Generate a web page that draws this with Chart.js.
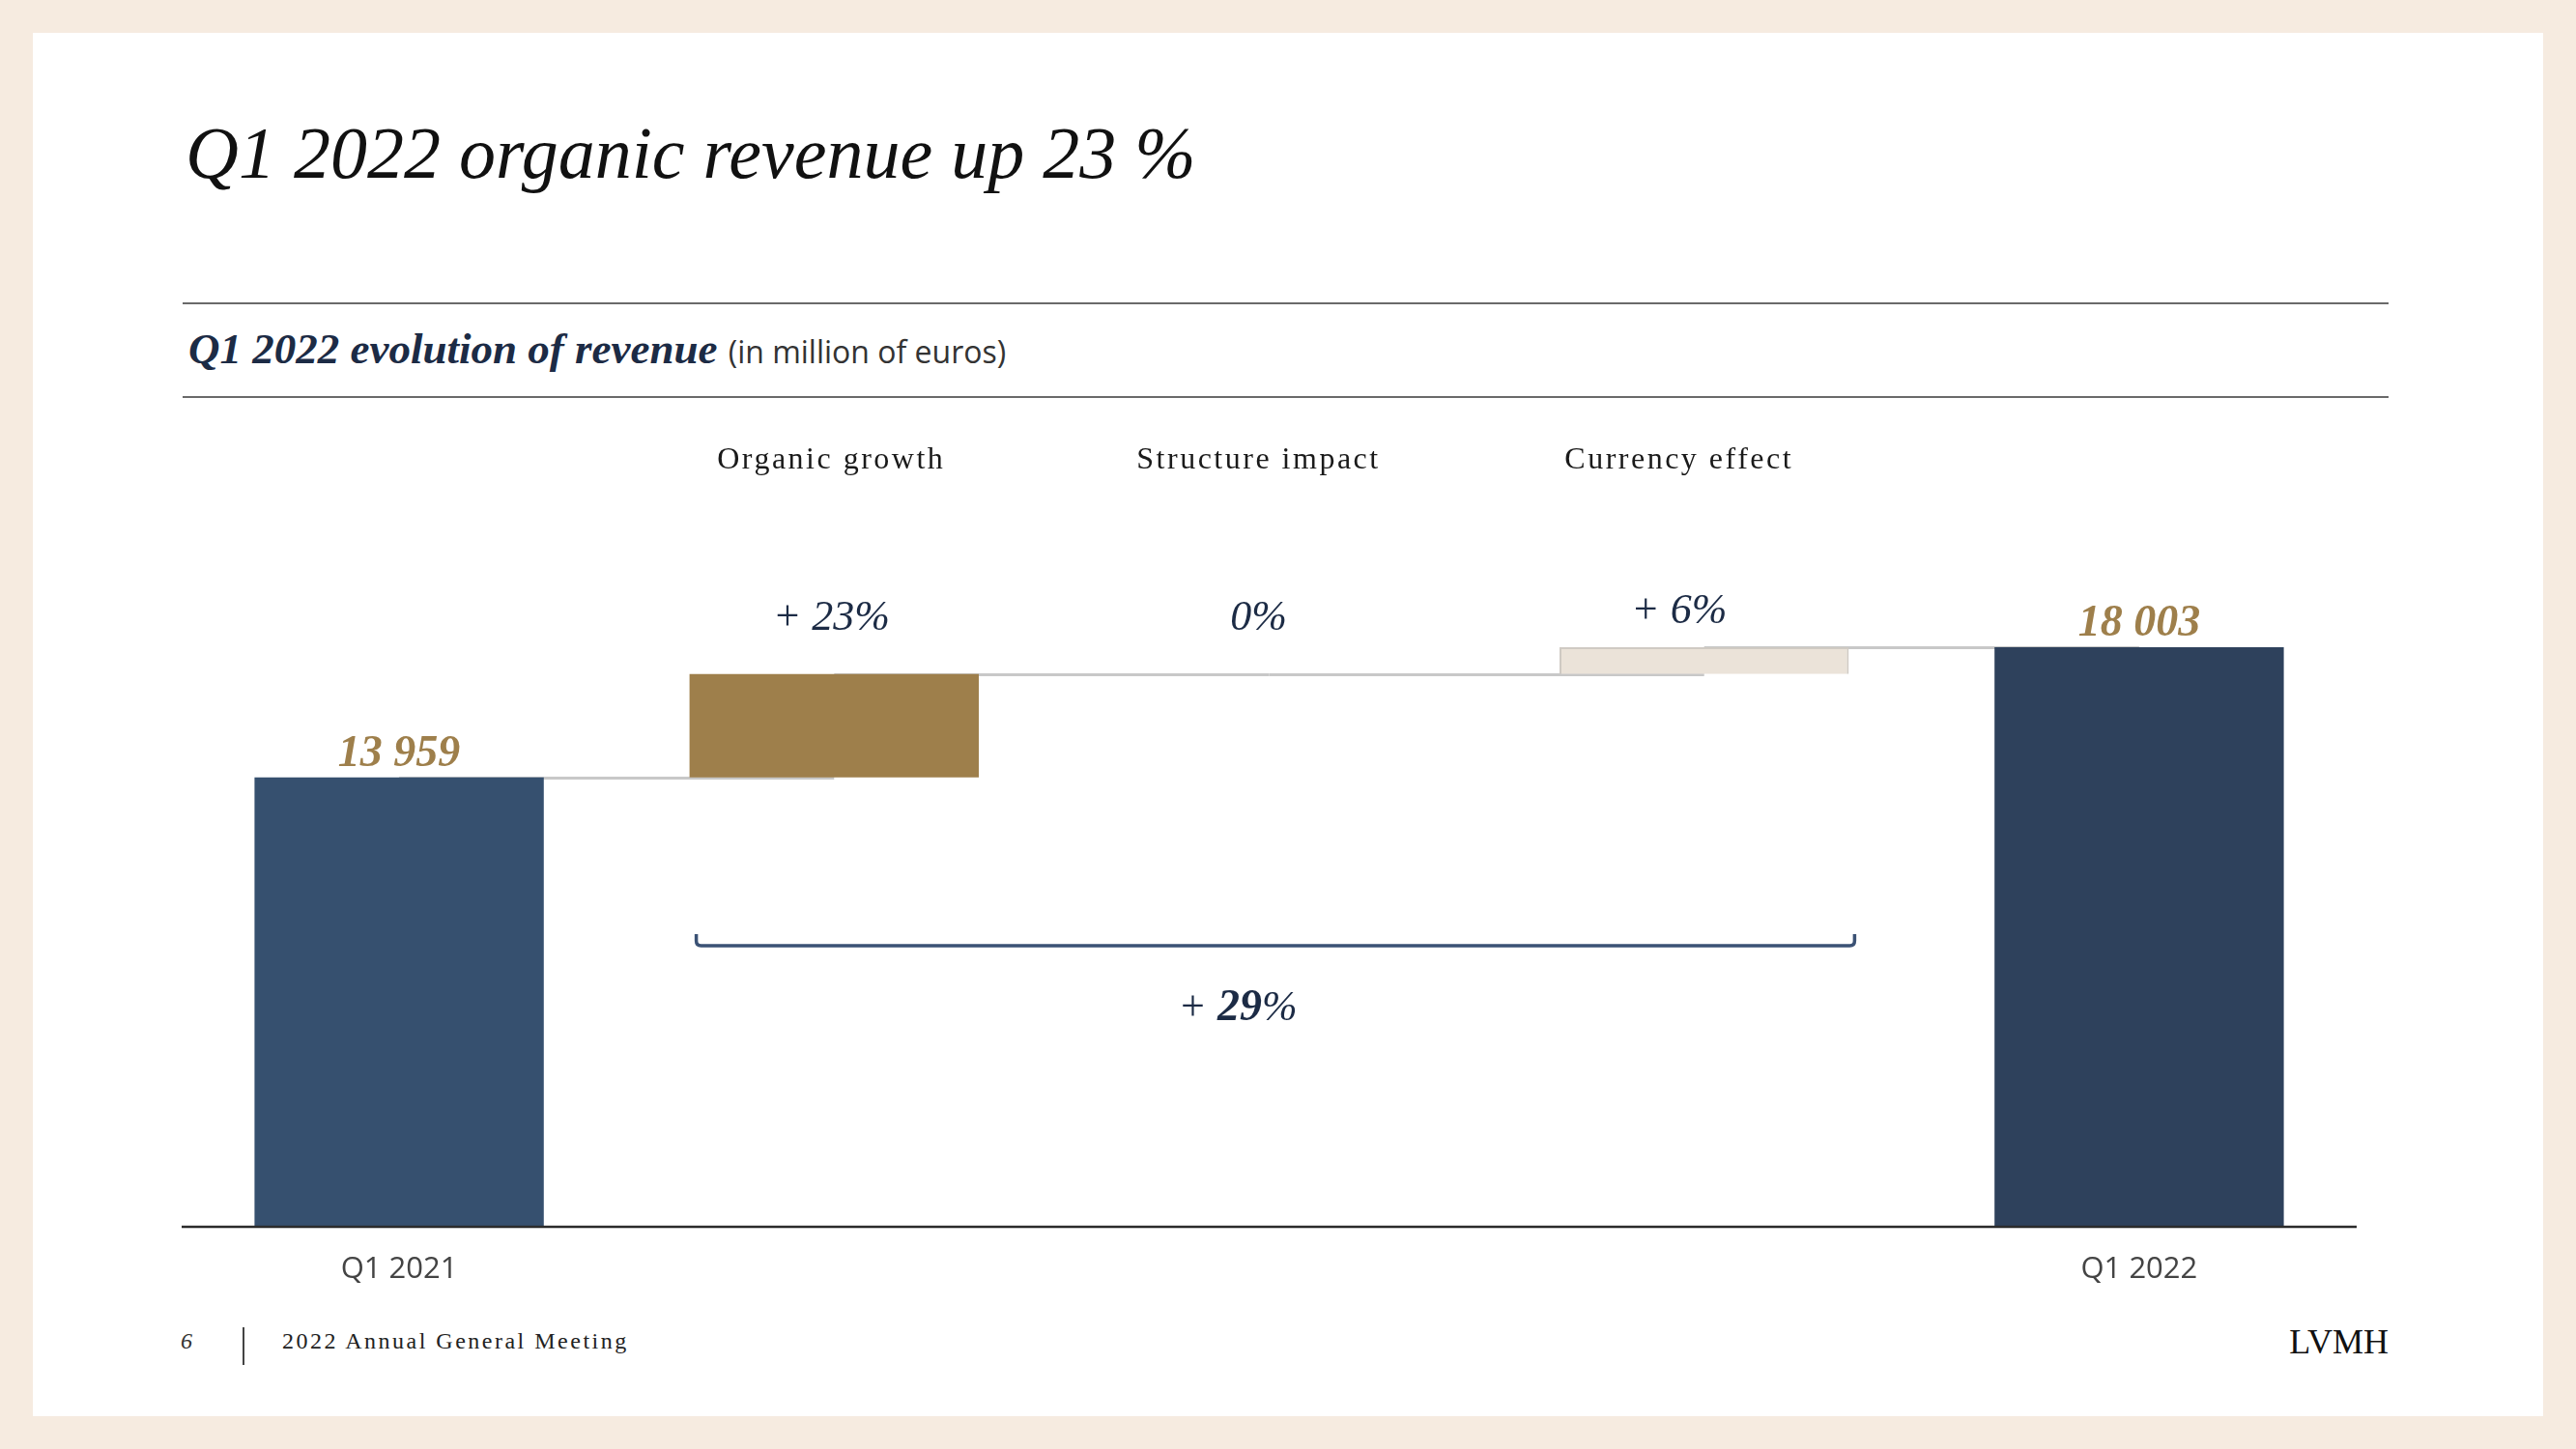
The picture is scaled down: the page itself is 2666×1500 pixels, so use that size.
<!DOCTYPE html>
<html>
<head>
<meta charset="utf-8">
<script src="https://cdn.jsdelivr.net/npm/chart.js@4/dist/chart.umd.min.js"></script>
<style>
  html, body { margin: 0; padding: 0; }
  body { width: 2666px; height: 1500px; background: #f6ebe0; position: relative; overflow: hidden; }
  .card { position: absolute; left: 34px; top: 34px; width: 2598px; height: 1432px; background: #fff; }
  .abs { position: absolute; white-space: nowrap; line-height: 1; }
  .serif { font-family: "Liberation Serif", "DejaVu Serif", serif; }
  .rule { position: absolute; left: 189px; width: 2283px; height: 2px; background: #6a6a6a; }
  #chart { position: absolute; left: 0; top: 0; }
</style>
</head>
<body>
<div class="card"></div>

<div class="abs serif" style="left:192px; top:120px; font-size:76px; font-style:italic; color:#111;">Q1 2022 organic revenue up 23 %</div>

<div class="rule" style="top:313px;"></div>
<div class="abs serif" style="left:195px; top:339px; font-size:45px; font-style:italic; font-weight:bold; color:#1c2b45;">Q1 2022 evolution of revenue <span style="font-family:'Open Sans', sans-serif; font-style:normal; font-weight:normal; font-size:32px; color:#333;">(in million of euros)</span></div>
<div class="rule" style="top:410px;"></div>

<div class="abs serif" style="left:187px; top:1376px; font-size:24px; font-style:italic; color:#333;">6</div>
<div style="position:absolute; left:251px; top:1374px; width:2px; height:39px; background:#444;"></div>
<div class="abs serif" style="left:292px; top:1376px; font-size:24px; letter-spacing:2.5px; color:#222;">2022 Annual General Meeting</div>
<div class="abs serif" style="right:194px; top:1371px; font-size:36px; color:#111;">LVMH</div>

<canvas id="chart" width="2666" height="1500"></canvas>

<script>
// Waterfall data (million euros)
const categories = ['Q1 2021', 'Organic growth', 'Structure impact', 'Currency effect', 'Q1 2022'];
const startRevenue = 13959;
const endRevenue = 18003;
const changeValues = [3207, 0, 837];
const changeLabels = ['+ 23%', '0%', '+ 6%'];
const totalLabels = ['13 959', '18 003'];
const totalChangeParts = ['+ ', '29', '%'];

const barColors = ['#36506f', '#9e7f4b', '#ffffff', '#ebe3d9', '#2e415c'];
const barBorders = [0, 0, 0, 2, 0];
// small horizontal nudges of the labels above the change columns (px)
const labelShift = [0, -3, -11, -26, 0];

// floating bars [from, to]
const floatData = [[0, startRevenue]];
let running = startRevenue;
changeValues.forEach(v => { floatData.push([running, running + v]); running += v; });
floatData.push([0, endRevenue]);

const serif = '"Liberation Serif", "DejaVu Serif", serif';

const waterfallDecor = {
  id: 'waterfallDecor',
  beforeDatasetsDraw(chart) {
    const ctx = chart.ctx;
    const bars = chart.getDatasetMeta(0).data;
    const y = chart.scales.y;
    ctx.save();
    ctx.strokeStyle = '#c8c8c8';
    ctx.lineWidth = 3;
    for (let i = 0; i < bars.length - 1; i++) {
      const py = Math.round(y.getPixelForValue(floatData[i][1])) + 0.5;
      ctx.beginPath();
      ctx.moveTo(bars[i].x, py);
      ctx.lineTo(bars[i + 1].x, py);
      ctx.stroke();
    }
    ctx.restore();
  },
  afterDatasetsDraw(chart) {
    const ctx = chart.ctx;
    const area = chart.chartArea;
    const bars = chart.getDatasetMeta(0).data;
    const y = chart.scales.y;
    const last = bars.length - 1;
    ctx.save();

    // baseline axis
    ctx.strokeStyle = '#2b2b2b';
    ctx.lineWidth = 2.5;
    ctx.beginPath();
    ctx.moveTo(area.left, area.bottom);
    ctx.lineTo(area.right, area.bottom);
    ctx.stroke();

    ctx.textAlign = 'center';

    // totals: axis labels + gold values
    [0, last].forEach((idx, k) => {
      const b = bars[idx];
      ctx.fillStyle = '#444';
      ctx.font = '31px "Open Sans", sans-serif';
      ctx.textBaseline = 'middle';
      ctx.fillText(categories[idx], b.x, area.bottom + 44);
      ctx.fillStyle = '#9e7f4b';
      ctx.font = 'italic bold 46px ' + serif;
      ctx.textBaseline = 'alphabetic';
      ctx.fillText(totalLabels[k], b.x, y.getPixelForValue(floatData[idx][1]) - 12);
    });

    // changes: category names on top + percentages
    for (let i = 1; i < last; i++) {
      const cx = bars[i].x + labelShift[i];
      ctx.fillStyle = '#1a1a1a';
      ctx.font = '32px ' + serif;
      ctx.letterSpacing = '2.5px';
      ctx.textBaseline = 'alphabetic';
      ctx.fillText(categories[i], cx, 485);
      ctx.letterSpacing = '0px';
      const top = y.getPixelForValue(Math.max(floatData[i][0], floatData[i][1]));
      ctx.fillStyle = '#1c2b45';
      ctx.font = 'italic 44px ' + serif;
      ctx.fillText(changeLabels[i - 1], cx, Math.min(top - 25, 652));
    }

    // bracket under the changes
    const left = bars[1].x - bars[1].width / 2 + 7;
    const right = bars[last - 1].x + bars[last - 1].width / 2 + 6;
    const by = area.bottom - 291;
    ctx.strokeStyle = '#3b5275';
    ctx.lineWidth = 3.5;
    ctx.beginPath();
    ctx.moveTo(left, by - 12);
    ctx.lineTo(left, by - 5);
    ctx.quadraticCurveTo(left, by, left + 5, by);
    ctx.lineTo(right - 5, by);
    ctx.quadraticCurveTo(right, by, right, by - 5);
    ctx.lineTo(right, by - 12);
    ctx.stroke();

    // + 29%
    const fonts = ['italic 44px ' + serif, 'italic bold 46px ' + serif, 'italic 44px ' + serif];
    const widths = totalChangeParts.map((t, i) => { ctx.font = fonts[i]; return ctx.measureText(t).width; });
    let tx = (left + right) / 2 - 39 - widths.reduce((a, c) => a + c, 0) / 2;
    ctx.textAlign = 'left';
    ctx.fillStyle = '#1c2b45';
    totalChangeParts.forEach((t, i) => {
      ctx.font = fonts[i];
      ctx.fillText(t, tx, by + 77);
      tx += widths[i];
    });
    ctx.restore();
  }
};

new Chart(document.getElementById('chart').getContext('2d'), {
  type: 'bar',
  data: {
    labels: categories,
    datasets: [{
      data: floatData,
      backgroundColor: barColors,
      borderColor: '#cfcac3',
      borderWidth: barBorders,
      categoryPercentage: 1,
      barPercentage: 0.665
    }]
  },
  options: {
    responsive: false,
    animation: false,
    devicePixelRatio: 1,
    layout: { padding: { left: 188, right: 227, top: 470, bottom: 230 } },
    plugins: { legend: { display: false }, tooltip: { enabled: false } },
    scales: {
      x: { display: false, offset: true },
      y: { display: false, min: 0, max: 24000 }
    }
  },
  plugins: [waterfallDecor]
});
</script>
</body>
</html>
